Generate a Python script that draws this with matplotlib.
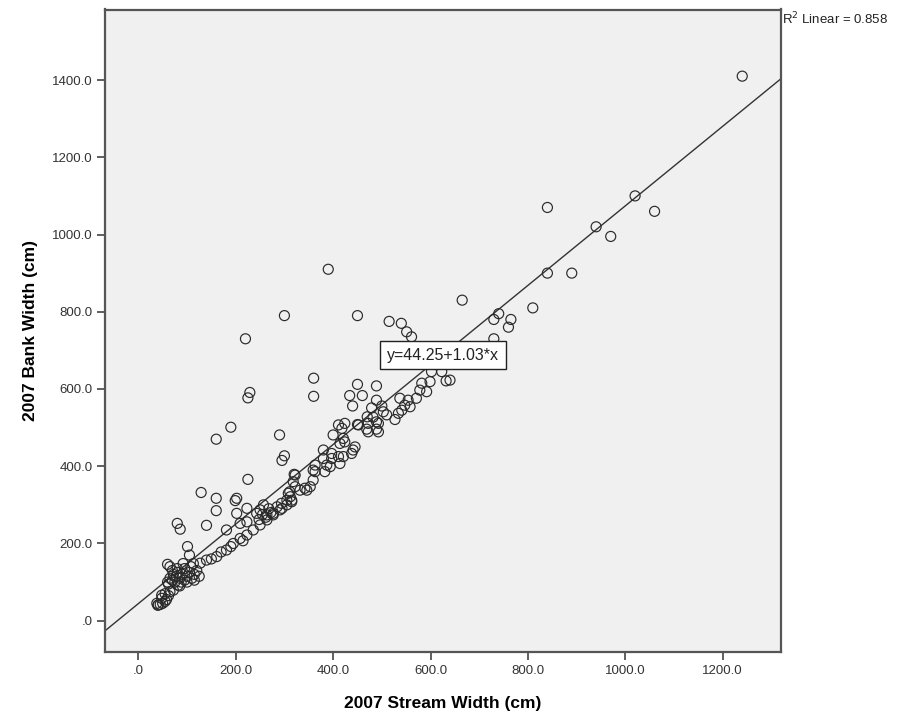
import matplotlib
matplotlib.use("Agg")
import matplotlib.pyplot as plt
import numpy as np

plt.rcParams['font.family'] = ['Liberation Sans', 'DejaVu Sans']

# 2007 Stream Width (cm)
stream = [
    1240, 1020, 840, 1060, 940, 970, 840, 890, 810, 665, 740, 730, 765, 760, 730,
    390, 300, 450, 220, 515, 540, 551, 561, 360, 360, 229, 225, 450, 434, 460, 440,
    190, 160, 290, 300, 295, 225, 129, 160, 202, 199, 160, 80, 86, 140,
    489, 489, 479, 500, 503, 510, 470, 482, 450, 469, 489, 489, 527, 534, 541, 537,
    554, 547, 558, 571, 578, 592, 582, 599, 602, 623, 632, 594, 640,
    411, 424, 452, 472, 493, 400, 418, 421, 472, 493, 424, 445, 441, 438, 414, 421,
    397, 380, 380, 397, 411, 363, 359, 383, 394, 414, 387, 322, 318, 322, 353, 359,
    346, 363, 320, 311, 342, 308, 315, 277, 294, 305, 332,
    202, 209, 223, 223, 181, 243, 250, 257, 264,
    140, 161, 181, 195, 209, 223, 236, 250, 264, 277, 291, 305, 315,
    101, 105, 60, 65, 48, 41, 72, 82,
    60, 65, 70, 72, 75, 78, 80, 85, 88, 90, 95, 100, 105, 110, 115, 120, 125,
    70, 80, 95, 100, 108, 115, 62, 85, 127, 113, 92,
    40, 45, 50, 55, 48, 58, 62, 55, 65, 38,
    150, 170, 190, 215, 312, 295, 248, 255, 262, 268, 272, 285,
]
# 2007 Bank Width (cm)
bank = [
    1410, 1100, 1070, 1060, 1020, 995, 900, 900, 810, 830, 795, 780, 780, 760, 730,
    910, 790, 790, 730, 775, 770, 748, 735, 628, 581, 591, 577, 612, 583, 583, 556,
    501, 470, 481, 427, 415, 366, 332, 317, 317, 311, 285, 252, 237, 247,
    608, 571, 551, 556, 541, 533, 528, 527, 508, 496, 496, 515, 521, 537, 545, 576,
    571, 558, 554, 576, 597, 593, 615, 619, 645, 645, 621, 665, 623,
    507, 511, 507, 511, 511, 481, 498, 472, 489, 489, 463, 450, 442, 433, 459, 425,
    433, 442, 420, 420, 425, 403, 390, 386, 399, 407, 403, 377, 360, 347, 347, 364,
    338, 386, 379, 334, 343, 330, 312, 278, 304, 312, 338,
    278, 252, 291, 256, 235, 278, 287, 300, 274,
    157, 166, 183, 200, 213, 222, 235, 248, 261, 274, 287, 300, 308,
    192, 170, 146, 140, 66, 41, 79, 92,
    100, 110, 105, 120, 100, 115, 125, 110, 100, 120, 105, 115, 125, 110, 120, 130, 115,
    130, 135, 135, 100, 140, 105, 95, 90, 149, 148, 148,
    40, 42, 45, 50, 58, 55, 65, 70, 75, 45,
    160, 178, 192, 207, 321, 291, 262, 275, 268, 290, 280, 295,
]

intercept = 44.25
slope = 1.03
r2_text = "R$^2$ Linear = 0.858"
eq_text = "y=44.25+1.03*x"

xticks = [0, 200, 400, 600, 800, 1000, 1200]
xticklabels = [".0", "200.0", "400.0", "600.0", "800.0", "1000.0", "1200.0"]
yticks = [0, 200, 400, 600, 800, 1000, 1200, 1400]
yticklabels = [".0", "200.0", "400.0", "600.0", "800.0", "1000.0", "1200.0", "1400.0"]

W, H = 912, 726
fig = plt.figure(figsize=(W / 100, H / 100), dpi=100)
fig.patch.set_facecolor('white')
L, R, T, B = 105, 780.7, 9.5, 652
ax = fig.add_axes([L / W, 1 - B / H, (R - L) / W, (B - T) / H])
ax.set_facecolor('#f0f0f0')

xmin, xmax = -68.4, 1319
ymin, ymax = -81, 1582.6
ax.set_xlim(xmin, xmax)
ax.set_ylim(ymin, ymax)

ax.scatter(stream, bank, s=52, facecolors='none', edgecolors='#2a2a2a',
           linewidths=0.85, zorder=3)

xs = np.array([xmin, xmax])
ax.plot(xs, intercept + slope * xs, color='#333333', lw=1.0, zorder=2)

ax.text(626, 688, eq_text, ha='center', va='center', fontsize=11.5, color='#222222',
        bbox=dict(boxstyle='square,pad=0.42', facecolor='white', edgecolor='#222222', linewidth=1.0),
        zorder=5)

for s in ax.spines.values():
    s.set_color('#555555')
    s.set_linewidth(1.6)

ax.set_xticks(xticks)
ax.set_xticklabels(xticklabels)
ax.set_yticks(yticks)
ax.set_yticklabels(yticklabels)
ax.tick_params(direction='out', length=6, width=1.2, color='#444444',
               labelsize=9.5, labelcolor='#333333', pad=3)

ax.set_xlabel("2007 Stream Width (cm)", fontsize=12.5, fontweight='bold', labelpad=14)
ax.set_ylabel("2007 Bank Width (cm)", fontsize=12.5, fontweight='bold', labelpad=10)

fig.text(782 / W, 1 - 19 / H, r2_text, ha='left', va='center', fontsize=9.5, color='#222222')

fig.savefig('out.png', dpi=100, facecolor='white')
